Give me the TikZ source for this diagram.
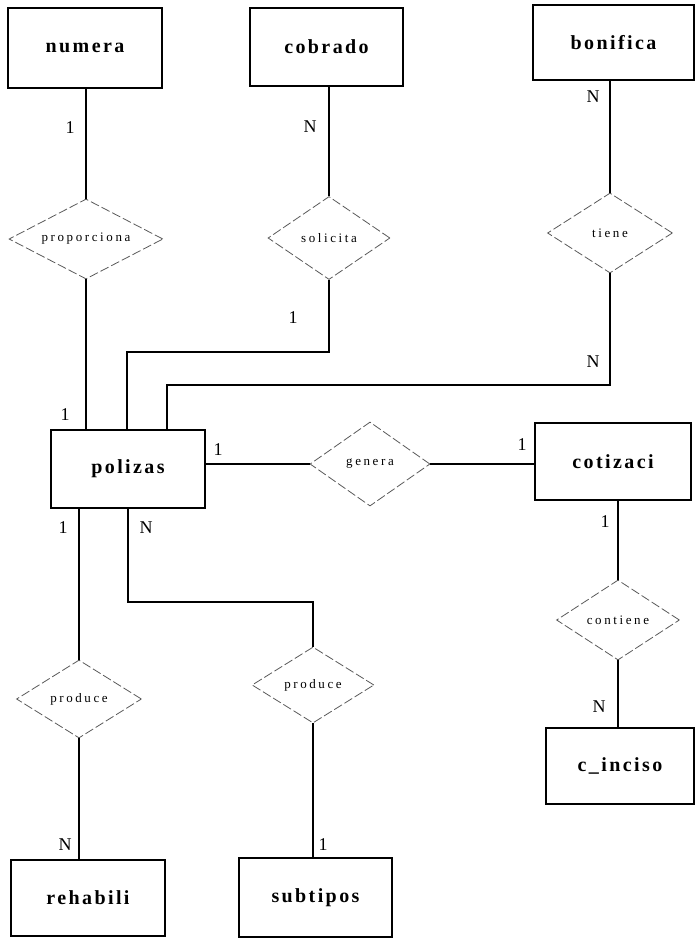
\documentclass[tikz,border=0pt]{standalone}
\usepackage{fontspec}
\setmainfont{Liberation Serif}
\newfontfamily\entfont{Liberation Serif}[LetterSpace=12]
\newfontfamily\relfont{Liberation Serif}[LetterSpace=20]
\usetikzlibrary{shapes.geometric}
\tikzset{
  entity/.style={draw, line width=1.8pt, rectangle, inner sep=0pt,
    font=\entfont\fontsize{20}{24}\selectfont\bfseries},
  relation/.style={draw=black!65, line width=0.8pt, dash pattern=on 9pt off 3pt,
    diamond, aspect=2, inner sep=0pt, font=\relfont\fontsize{13}{15}\selectfont},
  conn/.style={line width=1.3pt},
  card/.style={inner sep=0pt, font=\fontsize{18}{20}\selectfont}
}
\begin{document}
\begin{tikzpicture}[x=1pt,y=-1pt]
\useasboundingbox (0,0) rectangle (695,938);
% entities
\node[entity, minimum width=154pt, minimum height=80pt] (numera) at (85,48) {numera};
\node[entity, minimum width=153pt, minimum height=78pt] (cobrado) at (326.5,47) {cobrado};
\node[entity, minimum width=161pt, minimum height=75pt] (bonifica) at (613.5,42.5) {bonifica};
\node[entity, minimum width=154pt, minimum height=78pt] (polizas) at (128,469) {polizas};
\node[entity, minimum width=156pt, minimum height=77pt] (cotizaci) at (613,461.5) {cotizaci};
\node[entity, minimum width=148pt, minimum height=76pt] (cinciso) at (620,766) {c\_inciso};
\node[entity, minimum width=154pt, minimum height=76pt] (rehabili) at (88,898) {rehabili};
\node[entity, minimum width=153pt, minimum height=79pt] (subtipos) at (315.5,897.5) {subtipos};
% relationships
\node[relation, minimum width=154pt, minimum height=80pt] (prop) at (86,239) {proporciona};
\node[relation, minimum width=122pt, minimum height=83pt] (sol) at (329,238) {solicita};
\node[relation, minimum width=125pt, minimum height=80pt] (tiene) at (610,233) {tiene};
\node[relation, minimum width=120pt, minimum height=84pt] (genera) at (370,464) {genera};
\node[relation, minimum width=123pt, minimum height=80pt] (contiene) at (618,620) {contiene};
\node[relation, minimum width=125pt, minimum height=78pt] (prod1) at (79,699) {produce};
\node[relation, minimum width=122pt, minimum height=76pt] (prod2) at (313,685) {produce};
% bend points
\coordinate (c1) at (127,352);
\coordinate (c2) at (167,385);
\coordinate (c3) at (128,602);
% connectors
\draw[conn] (prop.north) -- (prop.north |- numera.south);
\draw[conn] (prop.south) -- (prop.south |- polizas.north);
\draw[conn] (sol.north) -- (sol.north |- cobrado.south);
\draw[conn] (sol.south) |- (c1) -- (c1 |- polizas.north);
\draw[conn] (tiene.north) -- (tiene.north |- bonifica.south);
\draw[conn] (tiene.south) |- (c2) -- (c2 |- polizas.north);
\draw[conn] (genera.west) -- (genera.west -| polizas.east);
\draw[conn] (genera.east) -- (genera.east -| cotizaci.west);
\draw[conn] (contiene.north) -- (contiene.north |- cotizaci.south);
\draw[conn] (contiene.south) -- (contiene.south |- cinciso.north);
\draw[conn] (prod1.north) -- (prod1.north |- polizas.south);
\draw[conn] (prod1.south) -- (prod1.south |- rehabili.north);
\draw[conn] (c3 |- polizas.south) -- (c3) -| (prod2.north);
\draw[conn] (prod2.south) -- (prod2.south |- subtipos.north);
% cardinalities
\node[card] (k1) at (70,128) {1};
\node[card] (k2) at (310,127) {N};
\node[card] (k3) at (593,97) {N};
\node[card] (k4) at (293,318) {1};
\node[card] (k5) at (593,362) {N};
\node[card] (k6) at (65,415) {1};
\node[card] (k7) at (218,450) {1};
\node[card] (k8) at (522,445) {1};
\node[card] (k9) at (63,528) {1};
\node[card] (k10) at (146,528) {N};
\node[card] (k11) at (605,522) {1};
\node[card] (k12) at (599,707) {N};
\node[card] (k13) at (65,845) {N};
\node[card] (k14) at (323,845) {1};
\end{tikzpicture}
\end{document}
